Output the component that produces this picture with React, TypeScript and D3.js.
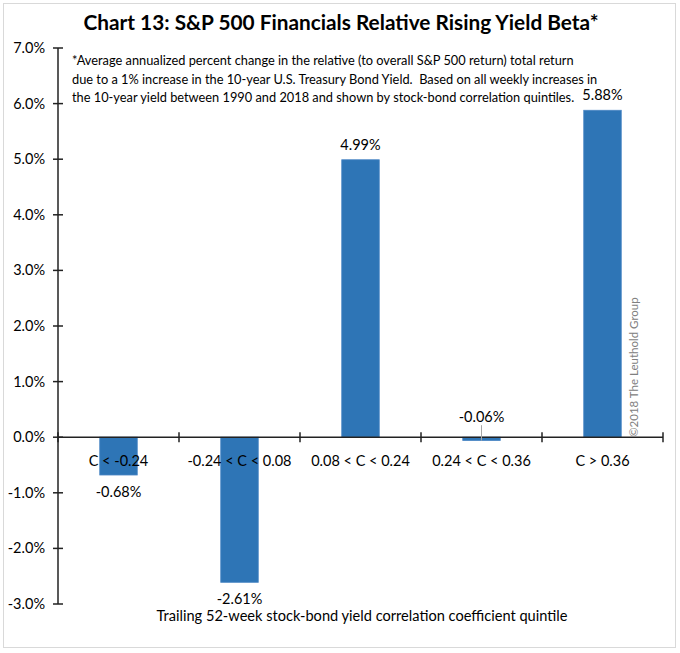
import React from 'react';
import * as d3 from 'd3';

// chart data
const categories = ['C < -0.24', '-0.24 < C < 0.08', '0.08 < C < 0.24', '0.24 < C < 0.36', 'C > 0.36'];
const values = [-0.68, -2.61, 4.99, -0.06, 5.88];
const yTicks = [-3, -2, -1, 0, 1, 2, 3, 4, 5, 6, 7];

const noteLines = [
  '*Average annualized percent change in the relative (to overall S&P 500 return) total return',
  'due to a 1% increase in the 10-year U.S. Treasury Bond Yield.  Based on all weekly increases in',
  'the 10-year yield between 1990 and 2018 and shown by stock-bond correlation quintiles.',
];

const W = 680;
const H = 653;
const FONT = 'Lato, "Open Sans", sans-serif';

const App: React.FC = () => {
  const left = 58;
  const right = 663;
  const top = 48;
  const bottom = 604;

  const x = d3.scaleBand<string>().domain(categories).range([left, right]).paddingInner(0.69).paddingOuter(0.345);
  const y = d3.scaleLinear().domain([-3, 7]).range([bottom, top]);
  const y0 = y(0);
  const bandStep = x.step();

  return (
    <svg width={W} height={H} style={{ position: 'absolute', left: 0, top: 0, background: '#fff' }} fontFamily={FONT}>
      <rect x={3.5} y={3.5} width={672} height={644} fill="#fff" stroke="#d9d9d9" />
      <text x={341} y={30} textAnchor="middle" fontSize={20.8} fontWeight="bold" fill="#000">
        Chart 13: S&amp;P 500 Financials Relative Rising Yield Beta*
      </text>

      {/* note */}
      {noteLines.map((l, i) => (
        <text key={i} x={72} y={65 + i * 18.5} fontSize={12.8} fill="#000" style={{ whiteSpace: 'pre' }}>{l}</text>
      ))}

      {/* bars */}
      {values.map((v, i) => {
        const bx = x(categories[i]) || 0;
        const yTop = y(Math.max(0, v));
        const h = Math.abs(y(v) - y0);
        return <rect key={i} x={bx} y={yTop} width={x.bandwidth()} height={h} fill="#2E75B6" stroke="#4a86c4" strokeWidth={0.8} />;
      })}

      {/* y axis */}
      <line x1={left} x2={left} y1={top} y2={bottom} stroke="#222" strokeWidth={1.5} />
      {yTicks.map(t => (
        <g key={t}>
          <line x1={left - 5} x2={left + 5} y1={y(t)} y2={y(t)} stroke="#222" strokeWidth={1.5} />
          <text x={45} y={y(t) + 5} textAnchor="end" fontSize={14.5} fill="#000">{t.toFixed(1)}%</text>
        </g>
      ))}

      {/* x axis */}
      <line x1={left} x2={right} y1={y0} y2={y0} stroke="#222" strokeWidth={1.5} />
      {d3.range(categories.length + 1).map(i => (
        <line key={i} x1={left + i * bandStep} x2={left + i * bandStep} y1={y0 - 5} y2={y0 + 5} stroke="#222" strokeWidth={1.5} />
      ))}
      {categories.map(c => (
        <text key={c} x={(x(c) || 0) + x.bandwidth() / 2} y={y0 + 29} textAnchor="middle" fontSize={14.5} fill="#000">{c}</text>
      ))}

      {/* data labels */}
      {values.map((v, i) => {
        const cx = (x(categories[i]) || 0) + x.bandwidth() / 2;
        const small = Math.abs(v) < 0.3;
        let ly: number;
        if (v >= 0) ly = y(v) - 10;
        else if (small) ly = y0 - 15;
        else ly = y(v) + 22;
        return (
          <g key={i}>
            {small && <line x1={cx} x2={cx} y1={y0 - 12} y2={y(v)} stroke="#a6a6a6" strokeWidth={1} />}
            <text x={cx} y={ly} textAnchor="middle" fontSize={14.5} fill="#000">{v.toFixed(2)}%</text>
          </g>
        );
      })}

      <text x={362} y={621} textAnchor="middle" fontSize={14.6} fill="#000">
        Trailing 52-week stock-bond yield correlation coefficient quintile
      </text>

      <text transform={`translate(638,437) rotate(-90)`} fontSize={11.5} fill="#808080">©2018 The Leuthold Group</text>
    </svg>
  );
};

export default App;
